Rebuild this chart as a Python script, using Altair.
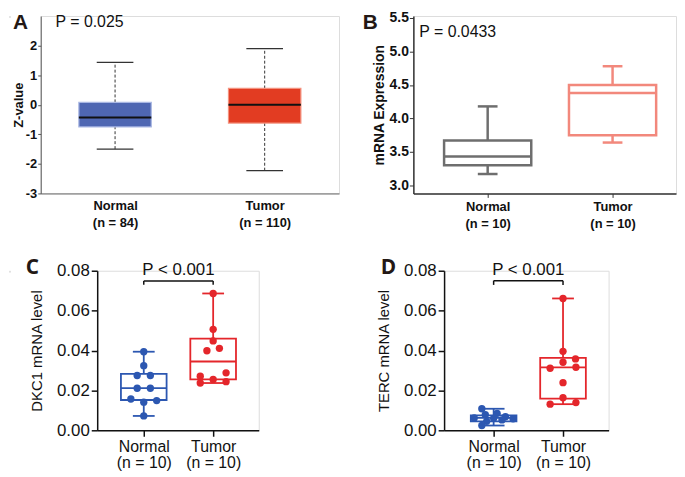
import altair as alt
import pandas as pd

FONT = "Liberation Sans"
LETTER_FONT = "Open Sans"
categories = ["Normal", "Tumor"]
panel_letters = ["A", "B", "C", "D"]

# ---------------- Panel A (summary box statistics) ----------------
a_n = [84, 110]
a_low = [-1.50, -2.23]
a_q1 = [-0.75, -0.62]
a_median = [-0.43, 0.00]
a_q3 = [0.08, 0.55]
a_high = [1.43, 1.90]
a_p = "P = 0.025"

# ---------------- Panel B (summary box statistics) ----------------
b_n = [10, 10]
b_low = [3.17, 3.64]
b_q1 = [3.30, 3.75]
b_median = [3.43, 4.38]
b_q3 = [3.67, 4.50]
b_high = [4.18, 4.78]
b_p = "P = 0.0433"

# ---------------- Panel C (DKC1, individual samples) ----------------
c_n = [10, 10]
c_normal = [0.0394, 0.0324, 0.0275, 0.0275, 0.0211, 0.0211, 0.0157, 0.0141, 0.0149, 0.0072]
c_normal_jitter = [0, 0, -0.095, 0.095, -0.095, 0.095, -0.186, 0, 0.186, 0]
c_tumor = [0.0686, 0.0506, 0.0448, 0.0399, 0.0411, 0.0288, 0.0271, 0.0255, 0.0244, 0.0237]
c_tumor_jitter = [0, 0, 0, -0.09, 0.09, 0.186, -0.186, 0, 0.186, -0.186]
c_q1 = [0.0152, 0.0255]
c_median = [0.0211, 0.0345]
c_q3 = [0.0283, 0.0460]
c_bracket = [0.0749, 0.0730]
c_p = "P < 0.001"
c_ylabel = "DKC1 mRNA level"

# ---------------- Panel D (TERC, individual samples) ----------------
d_n = [10, 10]
d_normal = [0.0108, 0.0085, 0.0078, 0.0068, 0.0062, 0.0060, 0.0058, 0.0052, 0.0045, 0.0024]
d_normal_jitter = [-0.17, 0.05, -0.12, 0.17, -0.28, 0.0, 0.28, 0.12, -0.10, -0.17]
d_tumor = [0.0661, 0.0396, 0.0341, 0.0358, 0.0311, 0.0316, 0.0239, 0.0163, 0.0131, 0.0139]
d_tumor_jitter = [0, 0, 0, 0.18, -0.186, 0.186, 0, 0, -0.186, 0.186]
d_q1 = [0.0045, 0.0159]
d_median = [0.0062, 0.0316]
d_q3 = [0.0075, 0.0363]
d_bracket = [0.0750, 0.0729]
d_p = "P < 0.001"
d_ylabel = "TERC mRNA level"

LETTER_COLOR = "#231815"


def label_expr(ns):
    return ("datum.value == 0 ? ['%s', '(n = %d)'] : ['%s', '(n = %d)']"
            % (categories[0], ns[0], categories[1], ns[1]))


def box_frames(low, q1, med, q3, high, colors, half, cap):
    boxes, whisk, caps, meds = [], [], [], []
    for i in range(2):
        boxes.append(dict(x1=i - half, x2=i + half, lo=q1[i], hi=q3[i], c=colors[i]))
        meds.append(dict(x1=i - half, x2=i + half, v=med[i], c=colors[i]))
        whisk.append(dict(x=i, lo=low[i], hi=q1[i], c=colors[i]))
        whisk.append(dict(x=i, lo=q3[i], hi=high[i], c=colors[i]))
        caps.append(dict(x1=i - cap, x2=i + cap, v=low[i], c=colors[i]))
        caps.append(dict(x1=i - cap, x2=i + cap, v=high[i], c=colors[i]))
    return (pd.DataFrame(boxes), pd.DataFrame(whisk), pd.DataFrame(caps), pd.DataFrame(meds))


def make_enc(xdom, ydom, xaxis, yaxis):
    xs = alt.Scale(domain=xdom, nice=False, zero=False)
    ys = alt.Scale(domain=ydom, nice=False, zero=False)

    def X(f):
        return alt.X(f, type="quantitative", scale=xs, axis=xaxis)

    def Y(f):
        return alt.Y(f, type="quantitative", scale=ys, axis=yaxis)
    return X, Y


def text_layer(txt, x, y, size, weight="normal", align="left", baseline="alphabetic",
               color="#111111", font=FONT, opacity=1):
    return alt.Chart(pd.DataFrame({"t": [txt]})).mark_text(
        align=align, baseline=baseline, font=font, fontSize=size,
        fontWeight=weight, color=color, opacity=opacity
    ).encode(x=alt.value(x), y=alt.value(y), text="t:N")


def spacer():
    return alt.Chart(pd.DataFrame({"t": [0]})).mark_rule(opacity=0, strokeWidth=0).encode(
        x=alt.value(0), y=alt.value(0), y2=alt.value(1)
    ).properties(width=1, height=1)


# ================= Panel A =================
A_W, A_H = 301, 179
ax_A = alt.Axis(values=[0, 1], labelExpr=label_expr(a_n), title=None, grid=False,
                ticks=False, tickSize=0, domainColor="#666666", domainWidth=1,
                labelFont=FONT, labelFontWeight="bold", labelFontSize=13, labelColor="#111111",
                labelPadding=6, labelLineHeight=17, labelFlush=False, labelOverlap=False)
ay_A = alt.Axis(values=[-3, -2, -1, 0, 1, 2], labelExpr="'' + datum.value", title="Z-value",
                grid=False, tickSize=3, tickColor="#555555", domainColor="#555555", domainWidth=1,
                labelFont=FONT, labelFontWeight="bold", labelFontSize=13, labelColor="#111111",
                labelPadding=1, titleFont=FONT, titleFontWeight="bold", titleFontSize=13,
                titleColor="#111111", titlePadding=0)
XA, YA = make_enc([-0.497, 1.497], [-3, 3], ax_A, ay_A)
bA, wA, cA, mA = box_frames(a_low, a_q1, a_median, a_q3, a_high,
                            ["#4F67B2", "#E23C22"], 0.242, 0.1225)
bA["s"] = ["#A9B7E3", "#F4917E"]
panelA = alt.layer(
    alt.Chart(wA).mark_rule(color="#333333", strokeWidth=1, strokeDash=[3, 2]).encode(
        x=XA("x"), y=YA("lo"), y2="hi"),
    alt.Chart(cA).mark_rule(color="#333333", strokeWidth=1.2).encode(
        x=XA("x1"), x2="x2", y=YA("v")),
    alt.Chart(bA).mark_rect(strokeWidth=1.2).encode(
        x=XA("x1"), x2="x2", y=YA("lo"), y2="hi",
        fill=alt.Fill("c:N", scale=None), stroke=alt.Stroke("s:N", scale=None)),
    alt.Chart(mA).mark_rule(color="#111111", strokeWidth=2).encode(
        x=XA("x1"), x2="x2", y=YA("v")),
    text_layer(a_p, 15, 11, 16),
    text_layer(panel_letters[0], -28, -4, 21, weight="bold", baseline="top",
               color=LETTER_COLOR, font=FONT),
).properties(width=A_W, height=A_H)

# ================= Panel B =================
B_W, B_H = 265, 179
ax_B = alt.Axis(values=[0, 1], labelExpr=label_expr(b_n), title=None, grid=False,
                tickSize=4, tickColor="#333333", domainColor="#333333", domainWidth=1.5,
                labelFont=FONT, labelFontWeight="bold", labelFontSize=13, labelColor="#111111",
                labelPadding=3, labelLineHeight=17, labelFlush=False, labelOverlap=False)
ay_B = alt.Axis(values=[3.0, 3.5, 4.0, 4.5, 5.0, 5.5], format=".1f", title="mRNA Expression",
                grid=False, tickSize=4, tickColor="#333333", domainColor="#333333", domainWidth=1.5,
                labelFont=FONT, labelFontWeight="bold", labelFontSize=14, labelColor="#111111",
                labelPadding=1, titleFont=FONT, titleFontWeight="bold", titleFontSize=14,
                titleColor="#111111", titlePadding=3)
XB, YB = make_enc([-0.595, 1.508], [2.88, 5.53], ax_B, ay_B)
bB, wB, cB, mB = box_frames(b_low, b_q1, b_median, b_q3, b_high,
                            ["#6E6E6E", "#F2887C"], 0.349, 0.079)
panelB = alt.layer(
    alt.Chart(wB).mark_rule(strokeWidth=2.5).encode(
        x=XB("x"), y=YB("lo"), y2="hi", color=alt.Color("c:N", scale=None)),
    alt.Chart(cB).mark_rule(strokeWidth=2.5).encode(
        x=XB("x1"), x2="x2", y=YB("v"), color=alt.Color("c:N", scale=None)),
    alt.Chart(bB).mark_rect(strokeWidth=2.5, fill="white").encode(
        x=XB("x1"), x2="x2", y=YB("lo"), y2="hi", stroke=alt.Stroke("c:N", scale=None)),
    alt.Chart(mB).mark_rule(strokeWidth=2.5).encode(
        x=XB("x1"), x2="x2", y=YB("v"), color=alt.Color("c:N", scale=None)),
    text_layer(b_p, 6, 21, 16),
    text_layer(panel_letters[1], -51, -4, 21, weight="bold", baseline="top",
               color=LETTER_COLOR, font=FONT),
).properties(width=B_W, height=B_H)


# ================= Panels C and D =================
def dot_panel(normal, njit, tumor, tjit, q1, med, q3, bracket, ptxt, ylabel, ns,
              xdom, width, height, letter, letter_x):
    ax = alt.Axis(values=[0, 1], labelExpr=label_expr(ns), title=None, grid=False,
                  tickSize=6, tickWidth=1.5, tickColor="#111111", domainColor="#111111",
                  domainWidth=1.5, labelFont=FONT, labelFontSize=16, labelColor="#111111",
                  labelPadding=2, labelLineHeight=17, labelFlush=False, labelOverlap=False)
    ay = alt.Axis(values=[0, 0.02, 0.04, 0.06, 0.08], format=".2f", title=ylabel, grid=False,
                  tickSize=6, tickWidth=1.5, tickColor="#111111", domainColor="#111111",
                  domainWidth=1.5, labelFont=FONT, labelFontSize=17, labelColor="#111111",
                  labelPadding=2, titleFont=FONT, titleFontWeight="normal", titleFontSize=15,
                  titleColor="#111111", titlePadding=12)
    X, Y = make_enc(xdom, [0, 0.08], ax, ay)
    colors = ["#2C57B1", "#E4262B"]
    low = [min(normal), min(tumor)]
    high = [max(normal), max(tumor)]
    bx, wx, cx, mx = box_frames(low, q1, med, q3, high, colors, 0.329, 0.157)
    pts = pd.DataFrame({
        "x": [0 + j for j in njit] + [1 + j for j in tjit],
        "v": normal + tumor,
        "c": [colors[0]] * len(normal) + [colors[1]] * len(tumor),
    })
    br_h = pd.DataFrame({"x1": [0], "x2": [1], "v": [bracket[0]]})
    br_v = pd.DataFrame({"x": [0, 1], "lo": [bracket[1]] * 2, "hi": [bracket[0]] * 2})
    layers = [
        alt.Chart(wx).mark_rule(strokeWidth=1.8).encode(
            x=X("x"), y=Y("lo"), y2="hi", color=alt.Color("c:N", scale=None)),
        alt.Chart(cx).mark_rule(strokeWidth=1.8).encode(
            x=X("x1"), x2="x2", y=Y("v"), color=alt.Color("c:N", scale=None)),
        alt.Chart(bx).mark_rect(strokeWidth=1.8, fillOpacity=0).encode(
            x=X("x1"), x2="x2", y=Y("lo"), y2="hi", stroke=alt.Stroke("c:N", scale=None)),
        alt.Chart(mx).mark_rule(strokeWidth=1.8).encode(
            x=X("x1"), x2="x2", y=Y("v"), color=alt.Color("c:N", scale=None)),
        alt.Chart(pts).mark_circle(size=55, opacity=1).encode(
            x=X("x"), y=Y("v"), color=alt.Color("c:N", scale=None)),
        alt.Chart(br_h).mark_rule(color="#111111", strokeWidth=1.5).encode(
            x=X("x1"), x2="x2", y=Y("v")),
        alt.Chart(br_v).mark_rule(color="#111111", strokeWidth=1.5).encode(
            x=X("x"), y=Y("lo"), y2="hi"),
        alt.Chart(pd.DataFrame({"t": [ptxt], "x": [0.5], "v": [0.0779]})).mark_text(
            font=FONT, fontSize=17, color="#111111", align="center", baseline="alphabetic"
        ).encode(x=X("x"), y=Y("v"), text="t:N"),
        text_layer(letter, letter_x, -14, 21, weight="bold", baseline="top",
                   color=LETTER_COLOR, font=LETTER_FONT),
    ]
    return alt.layer(*layers).properties(width=width, height=height)


panelC = dot_panel(c_normal, c_normal_jitter, c_tumor, c_tumor_jitter, c_q1, c_median, c_q3,
                   c_bracket, c_p, c_ylabel, c_n, [-0.671, 1.657], 163, 161,
                   panel_letters[2], -72)
panelD = dot_panel(d_normal, d_normal_jitter, d_tumor, d_tumor_jitter, d_q1, d_median, d_q3,
                   d_bracket, d_p, d_ylabel, d_n, [-0.714, 1.657], 166, 161,
                   panel_letters[3], -64)

row1 = alt.hconcat(alt.hconcat(spacer(), panelA, spacing=0), panelB, spacing=22)
row2 = alt.hconcat(alt.hconcat(spacer(), panelC, spacing=14), panelD, spacing=117)
chart = alt.vconcat(row1, row2, spacing=25).properties(
    padding=0, background="white"
).configure_view(stroke=None).configure(font=FONT)

chart.save("out.html", embed_options={"renderer": "svg", "actions": False})
